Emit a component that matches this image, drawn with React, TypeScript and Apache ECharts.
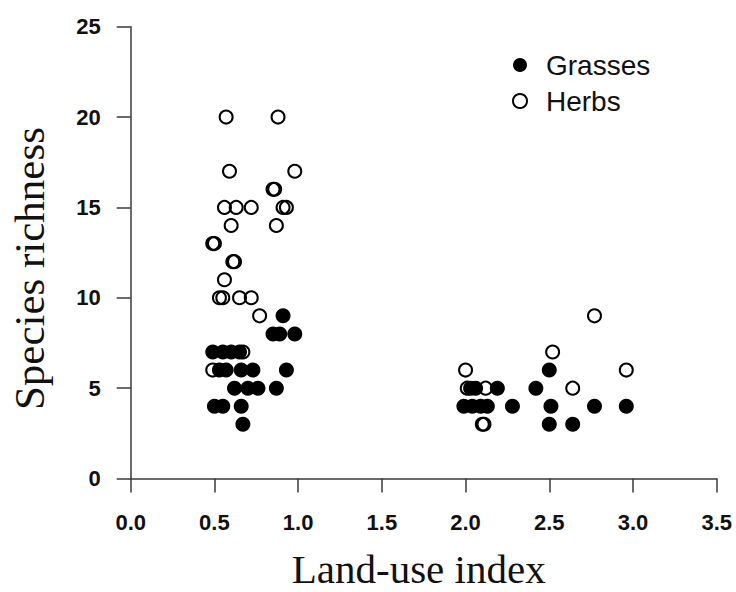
import React, { useEffect, useRef } from "react";
import * as echarts from "echarts";

// Land-use index vs. species richness, one point per site
const grassesLandUse = [
  0.91, 0.85, 0.89, 0.98, 0.49, 0.55, 0.6, 0.65, 0.53, 0.57, 0.66, 0.73, 0.93,
  0.62, 0.7, 0.76, 0.87, 0.5, 0.55, 0.66, 0.67,
  2.5, 2.03, 2.06, 2.19, 2.42, 1.99, 2.04, 2.09, 2.13, 2.28, 2.51, 2.77, 2.96,
  2.5, 2.64,
];
const grassesRichness = [
  9, 8, 8, 8, 7, 7, 7, 7, 6, 6, 6, 6, 6,
  5, 5, 5, 5, 4, 4, 4, 3,
  6, 5, 5, 5, 5, 4, 4, 4, 4, 4, 4, 4, 4,
  3, 3,
];

const herbsLandUse = [
  0.57, 0.88, 0.59, 0.98, 0.85, 0.86, 0.56, 0.63, 0.72, 0.91, 0.93, 0.6, 0.87,
  0.49, 0.5, 0.61, 0.62, 0.56, 0.53, 0.55, 0.65, 0.72, 0.77, 0.67, 0.49,
  2.77, 2.52, 2.0, 2.96, 2.01, 2.12, 2.64, 2.1, 2.11,
];
const herbsRichness = [
  20, 20, 17, 17, 16, 16, 15, 15, 15, 15, 15, 14, 14,
  13, 13, 12, 12, 11, 10, 10, 10, 10, 9, 7, 6,
  9, 7, 6, 6, 5, 5, 5, 3, 3,
];

const xTicks = [0, 0.5, 1, 1.5, 2, 2.5, 3, 3.5];
const yTicks = [0, 5, 10, 15, 20, 25];

const pairs = (xs: number[], ys: number[]) => xs.map((x, i) => [x, ys[i]]);

const SANS = '"Liberation Sans", Arial, sans-serif';
const SERIF = '"Liberation Serif", "Times New Roman", serif';

export default function App() {
  const ref = useRef<HTMLDivElement>(null);

  useEffect(() => {
    document.body.style.margin = "0";
    if (!ref.current) return;
    const chart = echarts.init(ref.current, undefined, { renderer: "svg" });

    const axisLine = { show: true, lineStyle: { color: "#3a3a3a", width: 1.5 } };
    const axisTick = { show: true, length: 14, lineStyle: { color: "#3a3a3a", width: 1.5 } };
    const tickLabel = {
      fontFamily: SANS,
      fontWeight: "bold" as const,
      fontSize: 22,
      color: "#111",
    };

    chart.setOption({
      animation: false,
      backgroundColor: "#ffffff",
      grid: {
        left: 130.7,
        right: 19.3,
        top: 26.7,
        bottom: 113.5,
        containLabel: false,
        outerBoundsMode: "none",
      },
      legend: {
        orient: "vertical",
        left: 512,
        top: 51,
        padding: 0,
        itemWidth: 42,
        itemHeight: 14,
        itemGap: 8,
        textStyle: { fontFamily: SANS, fontSize: 28, lineHeight: 28, color: "#111" },
        data: ["Grasses", "Herbs"],
      },
      xAxis: {
        type: "value",
        min: xTicks[0],
        max: xTicks[xTicks.length - 1],
        interval: 0.5,
        name: "Land-use index",
        nameLocation: "middle",
        nameGap: 72,
        nameTextStyle: {
          fontFamily: SERIF,
          fontSize: 41,
          lineHeight: 36,
          color: "#111",
          padding: [0, 10, 0, 0],
        },
        axisLine,
        axisTick,
        splitLine: { show: false },
        axisLabel: { ...tickLabel, margin: 33, formatter: (v: number) => v.toFixed(1) },
      },
      yAxis: {
        type: "value",
        min: yTicks[0],
        max: yTicks[yTicks.length - 1],
        interval: 5,
        name: "Species richness",
        nameLocation: "middle",
        nameGap: 80,
        nameTextStyle: { fontFamily: SERIF, fontSize: 43, color: "#111", padding: [0, 32, 0, 0] },
        axisLine,
        axisTick,
        splitLine: { show: false },
        axisLabel: { ...tickLabel, margin: 30 },
      },
      series: [
        {
          name: "Herbs",
          type: "scatter",
          symbol: "circle",
          symbolSize: 13,
          z: 2,
          itemStyle: {
            color: "rgba(255,255,255,0)",
            borderColor: "#000",
            borderWidth: 2,
            opacity: 1,
          },
          data: pairs(herbsLandUse, herbsRichness),
        },
        {
          name: "Grasses",
          type: "scatter",
          symbol: "circle",
          symbolSize: 15,
          z: 3,
          itemStyle: { color: "#000", borderWidth: 0, opacity: 1 },
          data: pairs(grassesLandUse, grassesRichness),
        },
      ],
    });

    return () => chart.dispose();
  }, []);

  return <div ref={ref} style={{ width: 736, height: 592 }} />;
}
